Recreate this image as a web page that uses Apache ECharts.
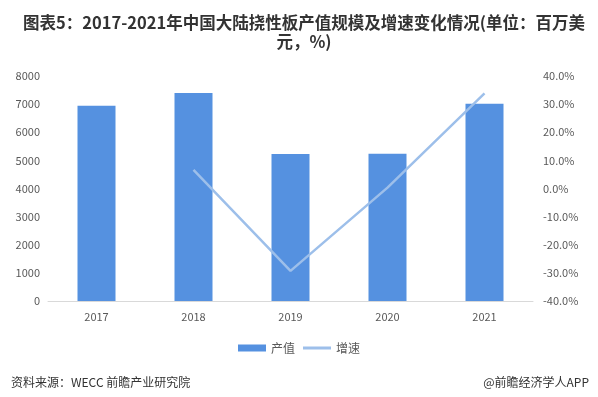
<!DOCTYPE html>
<html>
<head>
<meta charset="utf-8">
<script src="https://cdn.jsdelivr.net/npm/echarts@6/dist/echarts.min.js"></script>
<style>
html, body { margin: 0; padding: 0; background: #fff; }
#main { width: 598px; height: 397px; }
</style>
</head>
<body>
<div id="main"></div>
<script>
// 数据
var years = ['2017', '2018', '2019', '2020', '2021'];
var outputValue = [6940, 7400, 5230, 5240, 7010];   // 产值（百万美元）
var growthRate = [null, 6.6, -29.3, 0.3, 33.8];      // 增速（%）

var chart = echarts.init(document.getElementById('main'));
var font = '"Microsoft YaHei", "Noto Sans CJK SC", sans-serif';

chart.setOption({
  backgroundColor: '#fff',
  textStyle: { fontFamily: font },
  title: [
    {
      text: '图表5：2017-2021年中国大陆挠性板产值规模及增速变化情况(单位：百万美\n元，%)',
      left: 299,
      top: 8,
      textAlign: 'center',
      textStyle: { fontSize: 16.5, fontWeight: 'bold', color: '#333', lineHeight: 19, fontFamily: font }
    },
    {
      text: '资料来源：WECC 前瞻产业研究院',
      left: 6,
      top: 371,
      textStyle: { fontSize: 12, fontWeight: 'normal', color: '#333', fontFamily: font }
    },
    {
      text: '@前瞻经济学人APP',
      right: 4,
      top: 371,
      textStyle: { fontSize: 12, fontWeight: 'normal', color: '#333', fontFamily: font }
    }
  ],
  legend: {
    top: 337,
    left: 'center',
    itemWidth: 28,
    itemHeight: 7,
    itemGap: 8,
    textStyle: { fontSize: 12, color: '#595959' },
    data: [
      { name: '产值', icon: 'rect' },
      { name: '增速', icon: 'path://M0,0 H28 V3 H0 Z' }
    ]
  },
  grid: { left: 48, right: 65, top: 76, bottom: 96 },
  xAxis: {
    type: 'category',
    data: years,
    axisLine: { lineStyle: { color: '#d9d9d9' } },
    axisTick: { show: false },
    axisLabel: { color: '#595959', fontSize: 11, margin: 10 }
  },
  yAxis: [
    {
      type: 'value',
      min: 0,
      max: 8000,
      interval: 1000,
      splitLine: { show: false },
      axisLine: { show: false },
      axisTick: { show: false },
      axisLabel: {
        color: '#595959',
        fontSize: 11,
        margin: 8,
        formatter: function (v) { return String(v); }
      }
    },
    {
      type: 'value',
      min: -40,
      max: 40,
      interval: 10,
      splitLine: { show: false },
      axisLine: { show: false },
      axisTick: { show: false },
      axisLabel: {
        color: '#595959',
        fontSize: 11,
        margin: 10,
        formatter: function (v) { return v.toFixed(1) + '%'; }
      }
    }
  ],
  series: [
    {
      name: '产值',
      type: 'bar',
      data: outputValue,
      barWidth: 38,
      itemStyle: { color: '#5591e0' }
    },
    {
      name: '增速',
      type: 'line',
      yAxisIndex: 1,
      data: growthRate,
      symbol: 'none',
      lineStyle: { color: '#9dbfea', width: 2.5 },
      itemStyle: { color: '#9dbfea' }
    }
  ]
});
</script>
</body>
</html>
